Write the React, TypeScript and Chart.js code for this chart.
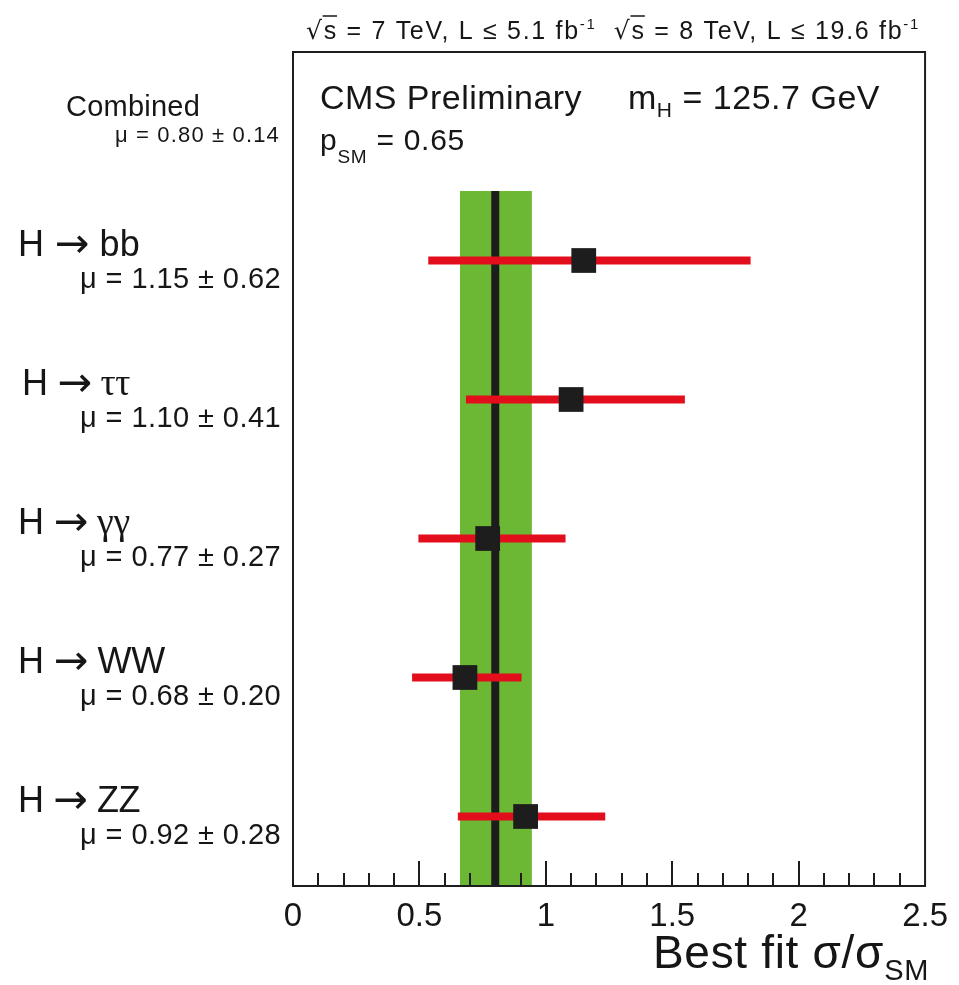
import React, { useEffect, useRef } from 'react';
import { Chart, registerables } from 'chart.js';

Chart.register(...registerables);

// ---------------- data ----------------
const channelDecays = ['bb', 'ττ', 'γγ', 'WW', 'ZZ'];
const channelY = [4.5, 3.5, 2.5, 1.5, 0.5];
const muBest = [1.15, 1.10, 0.77, 0.68, 0.92];
const muStatedErr = [0.62, 0.41, 0.27, 0.20, 0.28];
const muLow = [0.535, 0.684, 0.496, 0.471, 0.652];
const muHigh = [1.81, 1.55, 1.078, 0.904, 1.235];

const combinedMu = 0.80;
const combinedErr = 0.14;
const combinedLow = 0.66;
const combinedHigh = 0.945;
const combinedTop = 5;
const combinedLabelY = 5.5;
const pSM = 0.65;
const mH = 125.7;

const xMin = 0;
const xMax = 2.5;
const yMin = 0;
const yMax = 6;
const xTickValues = [0, 0.5, 1, 1.5, 2, 2.5];
const xTickLabels = ['0', '0.5', '1', '1.5', '2', '2.5'];
const xMinorStep = 0.1;

// ---------------- style ----------------
const SANS = '"Liberation Sans", Arial, Helvetica, sans-serif';
const SERIF = '"Liberation Serif", "Times New Roman", serif';
const DEJAVU = '"DejaVu Sans", sans-serif';
const GREEN = '#6cb733';
const RED = '#e30e1b';
const BLACK = '#1d1d1d';
const TEXT = '#161616';

type Run = { t: string; size: number; fam?: string; dy?: number; over?: boolean };

function drawRuns(
  ctx: CanvasRenderingContext2D,
  runs: Run[],
  x: number,
  y: number,
  target?: number,
  align: 'left' | 'right' = 'left'
) {
  ctx.save();
  (ctx as any).letterSpacing = '0px';
  ctx.textAlign = 'left';
  ctx.textBaseline = 'alphabetic';
  ctx.fillStyle = TEXT;
  ctx.strokeStyle = TEXT;
  const widths = runs.map((r) => {
    ctx.font = `${r.size}px ${r.fam || SANS}`;
    return ctx.measureText(r.t).width;
  });
  const W = widths.reduce((a, b) => a + b, 0);
  const N = runs.reduce((a, r) => a + [...r.t].length, 0);
  const s = target ? (target - W) / N : 0;
  const total = W + s * N;
  let cx = align === 'right' ? x - total : x;
  runs.forEach((r, i) => {
    ctx.font = `${r.size}px ${r.fam || SANS}`;
    (ctx as any).letterSpacing = `${s}px`;
    const yy = y + (r.dy || 0);
    ctx.fillText(r.t, cx, yy);
    const adv = widths[i] + s * [...r.t].length;
    if (r.over) {
      ctx.lineWidth = 1.5;
      ctx.beginPath();
      ctx.moveTo(cx - 1, yy - r.size * 0.92);
      ctx.lineTo(cx + adv - s * 0.5, yy - r.size * 0.92);
      ctx.stroke();
    }
    cx += adv;
  });
  ctx.restore();
}

function decayRuns(decay: string, size: number): Run[] {
  const greek = /[α-ω]/.test(decay);
  return [
    { t: 'H ', size },
    { t: '→', size: size * 1.15, fam: DEJAVU, dy: 1 },
    { t: ' ' + decay, size: greek ? size * 1.05 : size, fam: greek ? SERIF : SANS },
  ];
}

function muRuns(v: number, e: number, size: number): Run[] {
  return [
    { t: 'μ', size, fam: SANS },
    { t: ` = ${v.toFixed(2)} ± ${e.toFixed(2)}`, size },
  ];
}

// label layout (pixels)
const decayLeft = [18, 22, 18, 18, 18];
const decayWidth = [122, 108, 112, 147, 122];

const cmsTextPlugin = {
  id: 'cmsText',
  afterDraw(chart: any) {
    const { ctx, chartArea: a, scales } = chart;
    const xs = scales.x;
    const ys = scales.y;
    ctx.save();

    // minor / major ticks, pointing inward
    ctx.strokeStyle = BLACK;
    ctx.lineWidth = 2;
    const n = Math.round((xMax - xMin) / xMinorStep);
    for (let i = 1; i < n; i++) {
      const v = xMin + i * xMinorStep;
      const px = Math.round(xs.getPixelForValue(v));
      const major = i % 5 === 0;
      ctx.beginPath();
      ctx.moveTo(px, a.bottom);
      ctx.lineTo(px, a.bottom - (major ? 25 : 13));
      ctx.stroke();
    }
    // frame
    ctx.lineWidth = 2;
    ctx.strokeRect(a.left, a.top, a.right - a.left, a.bottom - a.top);
    ctx.restore();

    // header
    const hs = 25;
    const sup = 15;
    drawRuns(
      ctx,
      [
        { t: '√', size: hs, fam: DEJAVU },
        { t: 's', size: hs, over: true },
        { t: ' = 7 TeV, L ≤ 5.1 fb', size: hs },
        { t: '-1', size: sup, dy: -10 },
        { t: '  ', size: hs },
        { t: '√', size: hs, fam: DEJAVU },
        { t: 's', size: hs, over: true },
        { t: ' = 8 TeV, L ≤ 19.6 fb', size: hs },
        { t: '-1', size: sup, dy: -10 },
      ],
      306,
      39,
      614
    );

    // inside texts
    drawRuns(ctx, [{ t: 'CMS Preliminary', size: 34 }], 320, 109, 262);
    drawRuns(
      ctx,
      [
        { t: 'm', size: 34 },
        { t: 'H', size: 21, dy: 8 },
        { t: ` = ${mH.toFixed(1)} GeV`, size: 34 },
      ],
      628,
      109,
      252
    );
    drawRuns(
      ctx,
      [
        { t: 'p', size: 30 },
        { t: 'SM', size: 19, dy: 13 },
        { t: ` = ${pSM.toFixed(2)}`, size: 30 },
      ],
      320,
      150,
      145
    );

    // combined label
    const cy = ys.getPixelForValue(combinedLabelY);
    drawRuns(ctx, [{ t: 'Combined', size: 29 }], 66, cy - 6, 134);
    drawRuns(ctx, muRuns(combinedMu, combinedErr, 22), 280, cy + 20, 165, 'right');

    // channel labels
    channelDecays.forEach((d, i) => {
      const py = ys.getPixelForValue(channelY[i]);
      drawRuns(ctx, decayRuns(d, 36), decayLeft[i], py - 5, decayWidth[i]);
      drawRuns(ctx, muRuns(muBest[i], muStatedErr[i], 29), 281, py + 27, 201, 'right');
    });

    // x title
    drawRuns(
      ctx,
      [
        { t: 'Best fit σ/σ', size: 46 },
        { t: 'SM', size: 29, dy: 12 },
      ],
      929,
      968,
      276,
      'right'
    );
  },
};

export default function App() {
  const ref = useRef<HTMLCanvasElement>(null);
  useEffect(() => {
    const canvas = ref.current;
    if (!canvas) return;
    const datasets: any[] = [
      {
        type: 'scatter',
        data: muBest.map((m, i) => ({ x: m, y: channelY[i] })),
        pointStyle: 'rect',
        pointRadius: 17.5,
        pointHoverRadius: 17.5,
        backgroundColor: BLACK,
        borderColor: BLACK,
        borderWidth: 0,
        order: 0,
      },
      ...channelDecays.map((d, i) => ({
        type: 'line',
        label: d,
        data: [
          { x: muLow[i], y: channelY[i] },
          { x: muHigh[i], y: channelY[i] },
        ],
        showLine: true,
        borderColor: RED,
        borderWidth: 8,
        borderCapStyle: 'butt',
        pointRadius: 0,
        fill: false,
        order: 1,
      })),
      {
        type: 'line',
        data: [
          { x: combinedMu, y: yMin },
          { x: combinedMu, y: combinedTop },
        ],
        showLine: true,
        borderColor: BLACK,
        borderWidth: 8,
        borderCapStyle: 'butt',
        pointRadius: 0,
        fill: false,
        order: 2,
      },
      {
        type: 'line',
        data: [
          { x: combinedLow, y: combinedTop },
          { x: combinedHigh, y: combinedTop },
        ],
        showLine: true,
        borderColor: 'rgba(0,0,0,0)',
        borderWidth: 0,
        pointRadius: 0,
        fill: 'origin',
        backgroundColor: GREEN,
        order: 3,
      },
    ];

    const chart = new Chart(canvas, {
      type: 'scatter',
      data: { datasets },
      options: {
        animation: false,
        responsive: false,
        devicePixelRatio: 1,
        layout: { padding: { left: 293, right: 31, top: 52, bottom: 0 } },
        plugins: {
          legend: { display: false },
          tooltip: { enabled: false },
        },
        scales: {
          x: {
            type: 'linear',
            min: xMin,
            max: xMax,
            border: { display: false },
            grid: { display: false, drawTicks: false },
            afterFit: (s: any) => {
              s.height = 99;
            },
            afterBuildTicks: (s: any) => {
              s.ticks = xTickValues.map((v) => ({ value: v }));
            },
            ticks: {
              autoSkip: false,
              maxRotation: 0,
              padding: 11,
              color: TEXT,
              font: { family: SANS, size: 33 },
              callback: (_v: any, i: number) => xTickLabels[i],
            },
          },
          y: {
            type: 'linear',
            min: yMin,
            max: yMax,
            display: false,
          },
        },
      } as any,
      plugins: [cmsTextPlugin],
    } as any);
    return () => chart.destroy();
  }, []);

  return (
    <div style={{ position: 'absolute', left: 0, top: 0, width: 959, height: 985, background: '#fff' }}>
      <canvas ref={ref} width={959} height={985} style={{ display: 'block', width: 959, height: 985 }} />
    </div>
  );
}
